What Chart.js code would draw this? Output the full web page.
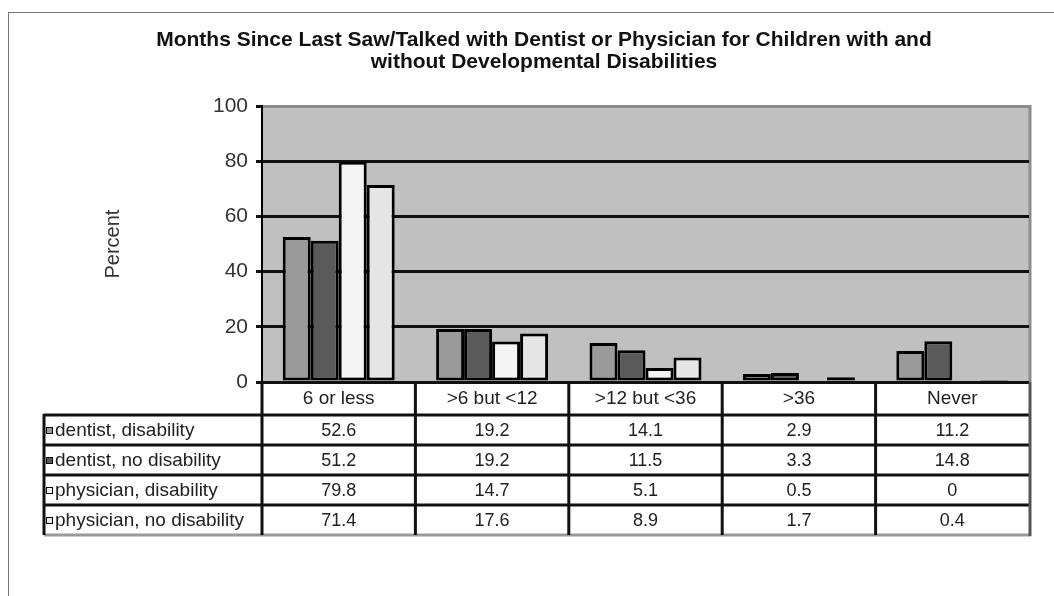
<!DOCTYPE html>
<html lang="en">
<head>
    <meta charset="UTF-8">
    <title>Months Since Last Saw/Talked with Dentist or Physician</title>
    <script src="https://cdn.jsdelivr.net/npm/chart.js"></script>
    <style>
        body { margin: 0; background: #fff; }
        canvas { display: block; }
    </style>
</head>
<body>
    <canvas id="visitChart" width="1054" height="596"></canvas>

    <script>
        const categories = ['6 or less', '>6 but <12', '>12 but <36', '>36', 'Never'];
        const seriesNames = ['dentist, disability', 'dentist, no disability', 'physician, disability', 'physician, no disability'];
        const dentistDisability = [52.6, 19.2, 14.1, 2.9, 11.2];
        const dentistNoDisability = [51.2, 19.2, 11.5, 3.3, 14.8];
        const physicianDisability = [79.8, 14.7, 5.1, 0.5, 0];
        const physicianNoDisability = [71.4, 17.6, 8.9, 1.7, 0.4];
        const yMin = 0, yMax = 100, yStep = 20;

        const seriesValues = [dentistDisability, dentistNoDisability, physicianDisability, physicianNoDisability];
        const seriesColors = ['#9a9a9a', '#5a5a5a', '#f4f4f4', '#e6e6e6'];
        const FONT = "'Liberation Sans', Arial, sans-serif";

        // grey plot area plus the outer frame of the chart
        const plotBackground = {
            id: 'plotBackground',
            beforeDraw(chart) {
                const { ctx, chartArea: a } = chart;
                ctx.save();
                ctx.strokeStyle = '#7a7a7a';
                ctx.lineWidth = 1;
                ctx.strokeRect(8.5, 12.5, chart.width, chart.height);
                ctx.fillStyle = '#c0c0c0';
                ctx.fillRect(a.left, a.top, a.right - a.left, a.bottom - a.top);
                ctx.strokeStyle = '#8c8c8c';
                ctx.lineWidth = 3;
                ctx.beginPath();
                ctx.moveTo(a.right + 1, a.top - 1);
                ctx.lineTo(a.right + 1, a.bottom);
                ctx.stroke();
                ctx.restore();
            }
        };

        // data table under the axis: category header row, then one row per series
        const dataTable = {
            id: 'dataTable',
            afterDraw(chart) {
                const { ctx, chartArea: a } = chart;
                const x = chart.scales.x;
                const headerTop = a.bottom;
                const rowsTop = headerTop + 33;
                const rowH = 30;
                const bottom = rowsTop + rowH * seriesNames.length;
                const left = 44;
                const colW = (a.right - a.left) / categories.length;

                ctx.save();
                ctx.font = '19px ' + FONT;
                ctx.fillStyle = '#222';
                ctx.textBaseline = 'middle';
                ctx.textAlign = 'center';
                categories.forEach((c, i) => {
                    ctx.fillText(c, x.getPixelForValue(i), headerTop + 17);
                });

                seriesNames.forEach((name, r) => {
                    const cy = rowsTop + rowH * r + rowH / 2 + 1;
                    ctx.fillStyle = seriesColors[r];
                    ctx.fillRect(left + 2, cy - 4, 7, 7);
                    ctx.strokeStyle = '#000';
                    ctx.lineWidth = 1;
                    ctx.strokeRect(left + 2.5, cy - 3.5, 6, 6);
                    ctx.fillStyle = '#222';
                    ctx.textAlign = 'left';
                    ctx.font = '19px ' + FONT;
                    ctx.fillText(name, left + 11, cy);
                    ctx.textAlign = 'center';
                    ctx.font = '18px ' + FONT;
                    seriesValues[r].forEach((v, i) => {
                        ctx.fillText(String(v), x.getPixelForValue(i), cy);
                    });
                });

                // horizontal rules
                ctx.strokeStyle = '#111';
                ctx.lineWidth = 3;
                ctx.beginPath();
                for (let r = 0; r < seriesNames.length; r++) {
                    const y = rowsTop + rowH * r;
                    ctx.moveTo(left, y);
                    ctx.lineTo(a.right, y);
                }
                ctx.stroke();
                ctx.strokeStyle = '#999';
                ctx.beginPath();
                ctx.moveTo(left, bottom);
                ctx.lineTo(a.right + 2, bottom);
                ctx.stroke();

                // vertical rules
                ctx.strokeStyle = '#111';
                ctx.beginPath();
                for (let i = 0; i < categories.length; i++) {
                    const vx = a.left + colW * i;
                    ctx.moveTo(vx, headerTop);
                    ctx.lineTo(vx, bottom);
                }
                ctx.moveTo(left, rowsTop - 1);
                ctx.lineTo(left, bottom);
                ctx.stroke();
                ctx.strokeStyle = '#555';
                ctx.beginPath();
                ctx.moveTo(a.right + 1, headerTop);
                ctx.lineTo(a.right + 1, bottom + 1);
                ctx.stroke();
                ctx.restore();
            }
        };

        const ctx = document.getElementById('visitChart').getContext('2d');
        const visitChart = new Chart(ctx, {
            type: 'bar',
            data: {
                labels: categories,
                datasets: seriesNames.map((name, i) => ({
                    label: name,
                    data: seriesValues[i],
                    backgroundColor: seriesColors[i],
                    borderColor: '#000',
                    borderWidth: 3,
                    borderSkipped: false,
                    categoryPercentage: 0.73,
                    barPercentage: 1
                }))
            },
            options: {
                responsive: false,
                animation: false,
                devicePixelRatio: 1,
                layout: { padding: { left: 59, right: 25, top: 0, bottom: 214 } },
                scales: {
                    x: { display: false },
                    y: {
                        min: yMin,
                        max: yMax,
                        ticks: {
                            stepSize: yStep,
                            padding: 8,
                            color: '#333',
                            font: { family: FONT, size: 21 }
                        },
                        grid: {
                            color: c => c.tick && c.tick.value === yMax ? '#8c8c8c' : '#111',
                            tickColor: '#111',
                            lineWidth: 3,
                            tickLength: 6
                        },
                        border: { color: '#000', width: 2 },
                        title: {
                            display: true,
                            text: 'Percent',
                            color: '#333',
                            font: { family: FONT, size: 20 },
                            padding: { top: 42, bottom: 0 }
                        },
                        afterFit(scale) { scale.width = 203; }
                    }
                },
                plugins: {
                    legend: { display: false },
                    tooltip: { enabled: false },
                    title: {
                        display: true,
                        text: ['Months Since Last Saw/Talked with Dentist or Physician for Children with and',
                               'without Developmental Disabilities'],
                        color: '#111',
                        font: { family: FONT, size: 21, weight: 'bold', lineHeight: 1.05 },
                        padding: { top: 29, bottom: 33 }
                    }
                }
            },
            plugins: [plotBackground, dataTable]
        });
    </script>
</body>
</html>
